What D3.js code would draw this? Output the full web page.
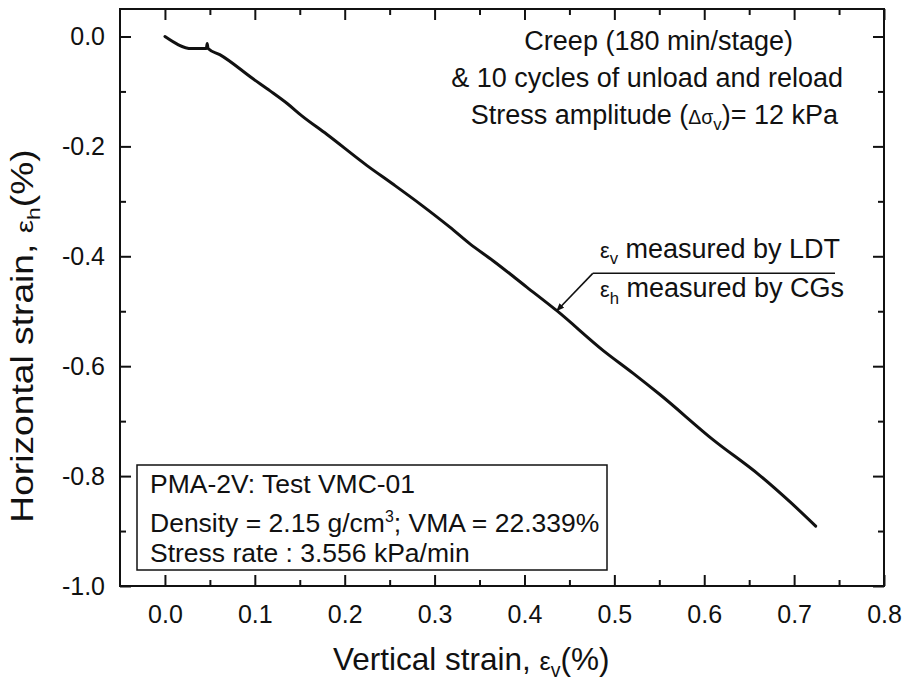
<!DOCTYPE html>
<html>
<head>
<meta charset="utf-8">
<script src="https://cdn.jsdelivr.net/npm/d3@7"></script>
<style>
  html, body { margin: 0; padding: 0; background: #fff; }
  svg { display: block; }
  text { font-family: "Liberation Sans", Arial, Helvetica, sans-serif; fill: #111; }
</style>
</head>
<body>
<svg id="chart" width="907" height="683"></svg>
<script>
// ---- data ----
const strainV = [0.000, 0.030, 0.042, 0.046, 0.047, 0.048, 0.061, 0.098, 0.117, 0.136, 0.152, 0.180, 0.2245, 0.254, 0.284, 0.317, 0.339, 0.365, 0.4025, 0.436, 0.488, 0.521, 0.551, 0.610, 0.662, 0.6955, 0.724];
const strainH = [0.000, -0.022, -0.022, -0.022, -0.013, -0.022, -0.033, -0.077, -0.099, -0.122, -0.144, -0.178, -0.2345, -0.269, -0.305, -0.347, -0.377, -0.408, -0.456, -0.499, -0.572, -0.613, -0.652, -0.734, -0.799, -0.847, -0.891];
const xMajorTicks = [0.0, 0.1, 0.2, 0.3, 0.4, 0.5, 0.6, 0.7, 0.8];
const xMinorTicks = [0.05, 0.15, 0.25, 0.35, 0.45, 0.55, 0.65, 0.75];
const yMajorTicks = [0.0, -0.2, -0.4, -0.6, -0.8, -1.0];
const yMinorTicks = [-0.1, -0.3, -0.5, -0.7, -0.9];
const xDomain = [-0.05, 0.8];
const yDomain = [-1.0, 0.05];
// annotation anchor (arrow tip on curve, leader line) in data units
const arrowTip = [0.436, -0.499];
const leaderStart = [0.476, -0.431];
const leaderEnd = [0.7455, -0.431];

// ---- layout ----
const svg = d3.select("#chart");
const L = 120, R = 884, T = 9, B = 586;
const x = d3.scaleLinear().domain(xDomain).range([L, R]);
const y = d3.scaleLinear().domain(yDomain).range([B, T]);
const FS_TICK = 25, FS_ANN = 27, FS_BOX = 26.5, FS_TITLE = 31.5;

// frame
svg.append("rect").attr("x", L).attr("y", T).attr("width", R - L).attr("height", B - T)
  .attr("fill", "none").attr("stroke", "#111").attr("stroke-width", 2);

function styleAxis(g) {
  g.select(".domain").remove();
  g.selectAll(".tick line").attr("stroke", "#111").attr("stroke-width", 2);
  g.selectAll(".tick text").attr("font-size", FS_TICK).attr("fill", "#111")
    .attr("font-family", "'Liberation Sans', Arial, sans-serif");
}
const fmt = d3.format(".1f");
const fmtTick = d => fmt(d).replace("−", "-");

// bottom
svg.append("g").attr("transform", `translate(0,${B})`)
  .call(d3.axisBottom(x).tickValues(xMajorTicks).tickSize(-11).tickSizeOuter(0).tickPadding(19).tickFormat(fmtTick))
  .call(styleAxis);
svg.append("g").attr("transform", `translate(0,${B})`)
  .call(d3.axisBottom(x).tickValues(xMinorTicks).tickSize(-6).tickSizeOuter(0).tickFormat(""))
  .call(styleAxis);
// top
svg.append("g").attr("transform", `translate(0,${T})`)
  .call(d3.axisTop(x).tickValues(xMajorTicks).tickSize(-11).tickSizeOuter(0).tickFormat(""))
  .call(styleAxis);
svg.append("g").attr("transform", `translate(0,${T})`)
  .call(d3.axisTop(x).tickValues(xMinorTicks).tickSize(-6).tickSizeOuter(0).tickFormat(""))
  .call(styleAxis);
// left
svg.append("g").attr("transform", `translate(${L},0)`)
  .call(d3.axisLeft(y).tickValues(yMajorTicks).tickSize(-11).tickSizeOuter(0).tickPadding(15).tickFormat(fmtTick))
  .call(styleAxis);
svg.append("g").attr("transform", `translate(${L},0)`)
  .call(d3.axisLeft(y).tickValues(yMinorTicks).tickSize(-6).tickSizeOuter(0).tickFormat(""))
  .call(styleAxis);
// right
svg.append("g").attr("transform", `translate(${R},0)`)
  .call(d3.axisRight(y).tickValues(yMajorTicks).tickSize(-11).tickSizeOuter(0).tickFormat(""))
  .call(styleAxis);
svg.append("g").attr("transform", `translate(${R},0)`)
  .call(d3.axisRight(y).tickValues(yMinorTicks).tickSize(-6).tickSizeOuter(0).tickFormat(""))
  .call(styleAxis);

// data line
const pts = strainV.map((v, i) => [v, strainH[i]]);
svg.append("path").datum(pts)
  .attr("d", d3.line().x(d => x(d[0])).y(d => y(d[1])).curve(d3.curveMonotoneX))
  .attr("fill", "none").attr("stroke", "#111").attr("stroke-width", 3)
  .attr("stroke-linejoin", "round").attr("stroke-linecap", "round");

// axis titles
const xt = svg.append("text").attr("x", 333).attr("y", 670).attr("font-size", FS_TITLE);
xt.append("tspan").text("Vertical strain, ");
xt.append("tspan").attr("font-size", FS_TITLE * 0.8).text("ε");
xt.append("tspan").attr("font-size", FS_TITLE * 0.62).attr("dy", 7).text("v");
xt.append("tspan").attr("dy", -7).text("(%)");

const yt = svg.append("text").attr("transform", "translate(33,336) rotate(-90) scale(1.2,1)")
  .attr("text-anchor", "middle").attr("font-size", 31);
yt.append("tspan").text("Horizontal strain,  ");
yt.append("tspan").attr("font-size", 31 * 0.8).text("ε");
yt.append("tspan").attr("font-size", 31 * 0.62).attr("dy", 7).text("h");
yt.append("tspan").attr("dy", -7).text("(%)");

// top-right annotation
svg.append("text").attr("x", 793).attr("y", 50).attr("text-anchor", "end").attr("font-size", FS_ANN)
  .text("Creep (180 min/stage)");
svg.append("text").attr("x", 843).attr("y", 87).attr("text-anchor", "end").attr("font-size", FS_ANN)
  .text("& 10 cycles of unload and reload");
const t3 = svg.append("text").attr("x", 838).attr("y", 124).attr("text-anchor", "end").attr("font-size", FS_ANN);
t3.append("tspan").text("Stress amplitude (");
t3.append("tspan").attr("font-size", FS_ANN * 0.72).text("Δσ");
t3.append("tspan").attr("font-size", FS_ANN * 0.62).attr("dy", 6).text("v");
t3.append("tspan").attr("dy", -6).text(")= 12 kPa");

// curve label + arrow
const la = svg.append("text").attr("x", 600).attr("y", 258).attr("font-size", FS_ANN);
la.append("tspan").attr("font-size", FS_ANN * 0.8).text("ε");
la.append("tspan").attr("font-size", FS_ANN * 0.62).attr("dy", 6).text("v");
la.append("tspan").attr("dy", -6).text(" measured by LDT");
const lb = svg.append("text").attr("x", 600).attr("y", 297).attr("font-size", FS_ANN);
lb.append("tspan").attr("font-size", FS_ANN * 0.8).text("ε");
lb.append("tspan").attr("font-size", FS_ANN * 0.62).attr("dy", 7).text("h");
lb.append("tspan").attr("dy", -7).text(" measured by CGs");

svg.append("defs").append("marker").attr("id", "arrowhead")
  .attr("viewBox", "0 0 10 10").attr("refX", 9).attr("refY", 5)
  .attr("markerWidth", 5).attr("markerHeight", 5).attr("orient", "auto")
  .append("path").attr("d", "M0,1 L10,5 L0,9 Z").attr("fill", "#111");
svg.append("line").attr("x1", x(leaderStart[0])).attr("y1", y(leaderStart[1]))
  .attr("x2", x(leaderEnd[0])).attr("y2", y(leaderEnd[1]))
  .attr("stroke", "#111").attr("stroke-width", 1.6);
svg.append("line").attr("x1", x(leaderStart[0])).attr("y1", y(leaderStart[1]))
  .attr("x2", x(arrowTip[0])).attr("y2", y(arrowTip[1]))
  .attr("stroke", "#111").attr("stroke-width", 1.6).attr("marker-end", "url(#arrowhead)");

// info box
svg.append("rect").attr("x", 137).attr("y", 465).attr("width", 470).attr("height", 105)
  .attr("fill", "#fff").attr("stroke", "#111").attr("stroke-width", 1.5);
svg.append("text").attr("x", 150).attr("y", 493).attr("font-size", FS_BOX).text("PMA-2V: Test VMC-01");
const d2 = svg.append("text").attr("x", 150).attr("y", 532).attr("font-size", FS_BOX);
d2.append("tspan").text("Density = 2.15 g/cm");
d2.append("tspan").attr("font-size", FS_BOX * 0.6).attr("dy", -10).text("3");
d2.append("tspan").attr("dy", 10).text("; VMA = 22.339%");
svg.append("text").attr("x", 150).attr("y", 562).attr("font-size", FS_BOX).text("Stress rate : 3.556 kPa/min");
</script>
</body>
</html>
